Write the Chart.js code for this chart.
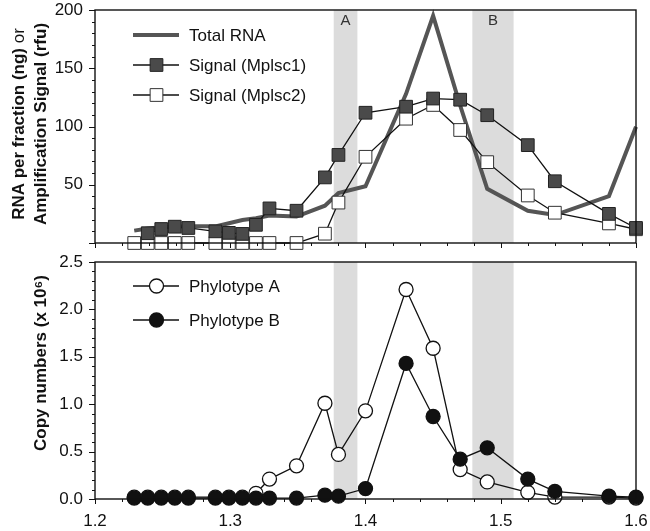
<!DOCTYPE html>
<html lang="en">
<head>
<meta charset="UTF-8">
<title>RNA gradient fractions</title>
<script src="https://cdn.jsdelivr.net/npm/chart.js@4"></script>
<style>
  body { margin: 0; background: #fff; }
  #wrap { position: relative; width: 650px; height: 531px; }
  canvas { position: absolute; left: 0; }
</style>
</head>
<body>
<div id="wrap">
  <canvas id="topChart" width="650" height="253" style="top:0"></canvas>
  <canvas id="bottomChart" width="650" height="278" style="top:253px"></canvas>
</div>
<script>
// buoyant density of each fraction (g/ml)
const rnaDensity = [1.229, 1.239, 1.249, 1.259, 1.269, 1.289, 1.299, 1.309, 1.319, 1.329, 1.349,
                    1.370, 1.380, 1.400, 1.430, 1.450, 1.470, 1.490, 1.520, 1.540, 1.580, 1.600];
const totalRNA   = [10.6, 12.5, 13.5, 14, 14.3, 14.3, 17, 19.8, 21.3, 23.5, 22.7,
                    32, 42.9, 48.7, 128, 195, 118, 46.5, 27.7, 24, 40.3, 99.7];

const sig1Density = [1.239, 1.249, 1.259, 1.269, 1.289, 1.299, 1.309, 1.319, 1.329, 1.349,
                     1.370, 1.380, 1.400, 1.430, 1.450, 1.470, 1.490, 1.520, 1.540, 1.580, 1.600];
const sig1 = [8.4, 12, 14, 12.9, 10, 8.7, 7.8, 15.6, 29.7, 27.7,
              56.3, 75.6, 111.8, 117, 124, 123, 109.7, 84, 53, 25, 12.9];

const sig2Density = rnaDensity;
const sig2 = [0, 0, 0, 0, 0, 0, 0, 0, 0, 0, 0,
              8, 34.7, 74, 106.7, 118.5, 97, 69.4, 40.8, 26, 16.8, 11.8];

const phyloDensity = rnaDensity;
const phyloA = [0.02, 0.02, 0.02, 0.02, 0.02, 0.02, 0.02, 0.02, 0.06, 0.21, 0.35,
                1.01, 0.47, 0.93, 2.21, 1.59, 0.31, 0.18, 0.07, 0.02, 0.02, 0.01];
const phyloB = [0.01, 0.01, 0.01, 0.01, 0.01, 0.01, 0.01, 0.01, 0.01, 0.01, 0.01,
                0.04, 0.03, 0.11, 1.43, 0.87, 0.42, 0.54, 0.21, 0.08, 0.03, 0.02];

// shaded density windows
const bandNames = ['A', 'B'];
const bands = [[1.3765, 1.394], [1.479, 1.5095]];

const font = '"Liberation Sans", Arial, Helvetica, sans-serif';

function pts(xs, ys) {
  return xs.map((x, i) => ({ x: x, y: ys[i] }));
}

// bands, frame, ticks, legend and axis titles
const deco = {
  id: 'deco',
  beforeDatasetsDraw(chart, args, o) {
    const ctx = chart.ctx, a = chart.chartArea, x = chart.scales.x;
    ctx.save();
    ctx.fillStyle = '#dcdcdc';
    bands.forEach((b, i) => {
      const x0 = x.getPixelForValue(b[0]), x1 = x.getPixelForValue(b[1]);
      ctx.fillRect(x0, a.top, x1 - x0, a.bottom - a.top);
      if (o.bandLabels) {
        ctx.fillStyle = '#333';
        ctx.font = '15px ' + font;
        ctx.textAlign = 'center';
        ctx.textBaseline = 'top';
        ctx.fillText(bandNames[i], (x0 + x1) / 2, a.top + 3);
        ctx.fillStyle = '#dcdcdc';
      }
    });
    ctx.restore();
  },
  afterDraw(chart, args, o) {
    const ctx = chart.ctx, a = chart.chartArea;
    const x = chart.scales.x, y = chart.scales.y;
    ctx.save();
    ctx.strokeStyle = '#111';
    ctx.lineWidth = 1.4;
    ctx.strokeRect(a.left, a.top, a.right - a.left, a.bottom - a.top);

    ctx.lineWidth = 1;
    ctx.beginPath();
    let n = Math.round((y.max - y.min) / o.yMinor);
    for (let i = 0; i <= n; i++) {
      const v = y.min + i * o.yMinor;
      const p = Math.round(y.getPixelForValue(v)) + 0.5;
      const len = (i % o.yPer === 0) ? 6 : 3;
      ctx.moveTo(a.left, p); ctx.lineTo(a.left - len, p);
    }
    n = Math.round((x.max - x.min) / 0.02);
    for (let i = 0; i <= n; i++) {
      const p = Math.round(x.getPixelForValue(x.min + i * 0.02)) + 0.5;
      const len = (i % 5 === 0) ? 5 : 3;
      ctx.moveTo(p, a.bottom); ctx.lineTo(p, a.bottom + len);
    }
    ctx.stroke();

    // legend
    ctx.font = '17px ' + font;
    ctx.textBaseline = 'middle';
    ctx.textAlign = 'left';
    o.legend.forEach((idx, k) => {
      const ds = chart.data.datasets[idx];
      const ly = a.top + o.legendTop + k * o.legendGap;
      ctx.strokeStyle = ds.borderColor;
      ctx.lineWidth = ds.borderWidth;
      ctx.beginPath(); ctx.moveTo(133, ly); ctx.lineTo(179, ly); ctx.stroke();
      if (ds.pointRadius > 0) {
        ctx.fillStyle = ds.pointBackgroundColor;
        ctx.strokeStyle = ds.pointBorderColor;
        ctx.lineWidth = ds.pointBorderWidth;
        ctx.beginPath();
        if (ds.pointStyle === 'rect') {
          const s = ds.pointRadius * Math.SQRT1_2;
          ctx.rect(156.5 - s, ly - s, 2 * s, 2 * s);
        } else {
          ctx.arc(156.5, ly, ds.pointRadius, 0, Math.PI * 2);
        }
        ctx.fill(); ctx.stroke();
      }
      ctx.fillStyle = '#111';
      ctx.fillText(ds.label, 189, ly + 1);
    });

    // rotated y titles
    ctx.fillStyle = '#111';
    o.title.forEach(t => {
      ctx.save();
      ctx.translate(t.x, t.y);
      ctx.rotate(-Math.PI / 2);
      ctx.textBaseline = 'middle';
      ctx.textAlign = 'left';
      ctx.font = 'bold 17px ' + font;
      let w = ctx.measureText(t.bold).width;
      let w2 = 0;
      if (t.plain) { ctx.font = '17px ' + font; w2 = ctx.measureText(t.plain).width; }
      let sx = -(w + w2) / 2;
      ctx.font = 'bold 17px ' + font;
      ctx.fillText(t.bold, sx, 0);
      if (t.plain) { ctx.font = '17px ' + font; ctx.fillText(t.plain, sx + w, 0); }
      ctx.restore();
    });
    ctx.restore();
  }
};

function makeChart(id, datasets, yMax, yStep, yFmt, o, xLabels, topPad, xHeight) {
  return new Chart(document.getElementById(id), {
    type: 'scatter',
    data: { datasets: datasets },
    options: {
      responsive: false,
      animation: false,
      devicePixelRatio: 1,
      layout: { padding: { top: topPad, right: 14, left: 0, bottom: 0 } },
      plugins: { legend: { display: false }, tooltip: { enabled: false }, deco: o },
      scales: {
        x: {
          type: 'linear', min: 1.2, max: 1.6,
          grid: { display: false }, border: { display: false },
          ticks: {
            display: xLabels, stepSize: 0.1, padding: 4, color: '#111',
            font: { family: font, size: 17 },
            callback: v => v.toFixed(1)
          },
          afterFit: s => { s.height = xHeight; s.paddingLeft = 0; s.paddingRight = 0; }
        },
        y: {
          min: 0, max: yMax,
          grid: { display: false }, border: { display: false },
          ticks: {
            stepSize: yStep, padding: 4, color: '#111',
            font: { family: font, size: 17 },
            callback: yFmt
          },
          afterFit: s => { s.width = 95; s.paddingTop = 0; s.paddingBottom = 0; }
        }
      }
    },
    plugins: [deco]
  });
}

const lineBase = { showLine: true, tension: 0, clip: false };

makeChart('topChart', [
  Object.assign({}, lineBase, {
    label: 'Total RNA', data: pts(rnaDensity, totalRNA), order: 3,
    borderColor: '#555', borderWidth: 4, pointRadius: 0
  }),
  Object.assign({}, lineBase, {
    label: 'Signal (Mplsc1)', data: pts(sig1Density, sig1), order: 1,
    borderColor: '#111', borderWidth: 1.3, pointStyle: 'rect', pointRadius: 9,
    pointBackgroundColor: '#4a4a4a', pointBorderColor: '#222', pointBorderWidth: 1
  }),
  Object.assign({}, lineBase, {
    label: 'Signal (Mplsc2)', data: pts(sig2Density, sig2), order: 2,
    borderColor: '#111', borderWidth: 1.3, pointStyle: 'rect', pointRadius: 9,
    pointBackgroundColor: '#fff', pointBorderColor: '#333', pointBorderWidth: 1
  })
], 200, 50, v => v === 0 ? '' : v, {
  bandLabels: true, yMinor: 10, yPer: 5,
  legend: [0, 1, 2], legendTop: 25, legendGap: 30,
  title: [
    { x: 19, y: 124, bold: 'RNA per fraction (ng) ', plain: 'or' },
    { x: 41, y: 124, bold: 'Amplification Signal (rfu)' }
  ]
}, false, 7, 8);

makeChart('bottomChart', [
  Object.assign({}, lineBase, {
    label: 'Phylotype A', data: pts(phyloDensity, phyloA), order: 2,
    borderColor: '#111', borderWidth: 1.3, pointStyle: 'circle', pointRadius: 7,
    pointBackgroundColor: '#fff', pointBorderColor: '#111', pointBorderWidth: 1.3
  }),
  Object.assign({}, lineBase, {
    label: 'Phylotype B', data: pts(phyloDensity, phyloB), order: 1,
    borderColor: '#111', borderWidth: 1.3, pointStyle: 'circle', pointRadius: 7,
    pointBackgroundColor: '#111', pointBorderColor: '#111', pointBorderWidth: 1.3
  })
], 2.5, 0.5, v => v.toFixed(1), {
  bandLabels: false, yMinor: 0.1, yPer: 5,
  legend: [0, 1], legendTop: 24, legendGap: 34,
  title: [
    { x: 41, y: 110, bold: 'Copy numbers (x 10\u2076)' }
  ]
}, true, 9, 32);
</script>
</body>
</html>
